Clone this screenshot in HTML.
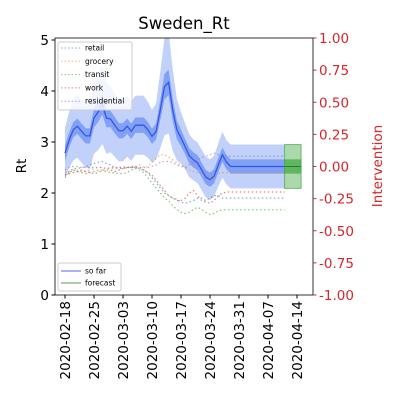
<!DOCTYPE html>
<html><head><meta charset="utf-8"><style>
body{margin:0;background:#fff;font-family:"Liberation Sans",sans-serif}
svg text{font-family:"DejaVu Sans","Liberation Sans",sans-serif}
</style></head><body>
<svg id="c" width="400" height="400" xmlns="http://www.w3.org/2000/svg"></svg>
<script>
const meanRt=[2.78,3.04,3.24,3.31,3.21,3.12,3.12,3.47,3.59,3.74,3.47,3.45,3.33,3.22,3.22,3.31,3.21,3.33,3.33,3.33,3.24,3.11,3.21,3.63,4.08,4.17,3.63,3.24,3.08,2.91,2.73,2.65,2.59,2.45,2.31,2.26,2.33,2.55,2.75,2.6,2.52,2.52,2.52,2.52,2.52,2.52,2.52,2.52,2.52,2.52,2.52,2.52,2.52,2.52];
const innerW=[0.15,0.15,0.15,0.15,0.15,0.15,0.15,0.18,0.2,0.2,0.18,0.16,0.16,0.15,0.15,0.15,0.15,0.15,0.15,0.15,0.15,0.15,0.16,0.2,0.25,0.25,0.22,0.18,0.16,0.15,0.15,0.15,0.15,0.14,0.14,0.14,0.14,0.14,0.14,0.14,0.14,0.14,0.14,0.14,0.14,0.14,0.14,0.14,0.14,0.14,0.14,0.14,0.14,0.14];
const outerW=[0.5,0.55,0.6,0.62,0.62,0.62,0.65,0.7,0.75,0.78,0.7,0.65,0.62,0.6,0.6,0.6,0.58,0.58,0.58,0.58,0.55,0.52,0.55,0.75,0.95,1.0,0.8,0.6,0.5,0.45,0.42,0.4,0.4,0.4,0.4,0.4,0.4,0.42,0.45,0.43,0.43,0.43,0.43,0.43,0.43,0.43,0.43,0.43,0.43,0.43,0.43,0.43,0.43,0.43];
const retail=[2.35,2.42,2.48,2.48,2.5,2.52,2.55,2.58,2.6,2.62,2.58,2.55,2.5,2.48,2.48,2.5,2.52,2.52,2.5,2.45,2.4,2.3,2.2,2.1,2.0,1.95,1.9,1.88,1.82,1.8,1.82,1.85,1.9,1.9,1.85,1.9,1.95,1.95,1.9,1.9,1.9,1.9,1.9,1.9,1.9,1.9,1.9,1.9,1.9,1.9,1.9,1.9,1.9,1.9];
const grocery=[2.4,2.42,2.45,2.45,2.42,2.42,2.45,2.48,2.5,2.5,2.48,2.48,2.48,2.5,2.52,2.5,2.5,2.52,2.55,2.5,2.52,2.6,2.68,2.75,2.75,2.7,2.65,2.6,2.55,2.5,2.45,2.42,2.4,2.38,2.35,2.3,2.35,2.38,2.4,2.4,2.4,2.4,2.4,2.4,2.4,2.4,2.4,2.4,2.4,2.4,2.4,2.4,2.4,2.4];
const transit=[2.3,2.4,2.45,2.42,2.4,2.38,2.4,2.42,2.45,2.45,2.42,2.4,2.4,2.38,2.38,2.4,2.45,2.48,2.45,2.4,2.3,2.2,2.1,2.0,1.9,1.85,1.75,1.68,1.62,1.6,1.62,1.68,1.72,1.68,1.62,1.58,1.6,1.65,1.67,1.67,1.67,1.67,1.67,1.67,1.67,1.67,1.67,1.67,1.67,1.67,1.67,1.67,1.67,1.67];
const work=[2.35,2.38,2.4,2.42,2.45,2.42,2.4,2.38,2.4,2.45,2.45,2.45,2.42,2.45,2.48,2.5,2.5,2.5,2.48,2.45,2.4,2.35,2.25,2.15,2.05,1.95,1.9,1.85,1.85,1.9,2.0,2.05,1.95,1.85,1.82,1.8,1.85,1.95,2.0,2.02,2.02,2.02,2.02,2.02,2.02,2.02,2.02,2.02,2.02,2.02,2.02,2.02,2.02,2.02];
const residential=[2.45,2.5,2.52,2.52,2.5,2.5,2.5,2.5,2.5,2.5,2.48,2.5,2.5,2.5,2.5,2.5,2.5,2.5,2.5,2.5,2.5,2.52,2.55,2.6,2.62,2.62,2.6,2.55,2.52,2.5,2.55,2.6,2.65,2.7,2.72,2.75,2.78,2.75,2.72,2.72,2.72,2.72,2.72,2.72,2.72,2.72,2.72,2.72,2.72,2.72,2.72,2.72,2.72,2.72];
const forecastMean=[2.52], forecastInner=[0.14], forecastOuter=[0.43];
const xTickLabels=["2020-02-18","2020-02-25","2020-03-03","2020-03-10","2020-03-17","2020-03-24","2020-03-31","2020-04-07","2020-04-14"];
const yTicks=[0,1,2,3,4,5];
const rTicks=[1,0.75,0.5,0.25,0,-0.25,-0.5,-0.75,-1];

const S=document.getElementById('c'),NS='http://www.w3.org/2000/svg';
const L=55,R=313,T=38,B=295;
const x=d=>65+d*232/56, y=v=>295-v*51, yr=v=>166.5-v*128.5;
function mk(tag,a,p){const e=document.createElementNS(NS,tag);for(const k in a)e.setAttribute(k,a[k]);(p||S).appendChild(e);return e;}
function line(arr,col,dash,name,w){const e=mk('polyline',{points:arr.map((v,i)=>x(i)+','+y(v)).join(' '),fill:'none',stroke:col,'stroke-width':w||1,'stroke-dasharray':dash||'','stroke-opacity':dash?0.6:1});
 }
const cp=mk('clipPath',{id:'cp'});mk('rect',{x:L,y:T,width:R-L,height:B-T},cp);
const g=mk('g',{'clip-path':'url(#cp)'});
function bandG(m,w,fill,op,name){let up=m.map((v,i)=>[x(i),y(v+w[i])]),dn=m.map((v,i)=>[x(i),y(v-w[i])]).reverse();
 const e=mk('polygon',{points:up.concat(dn).map(p=>p.join(',')).join(' '),fill:fill,'fill-opacity':op},g);
 }
bandG(meanRt,outerW,'#3366ee',0.3,'outer-band');
bandG(meanRt,innerW,'#3366ee',0.45,'inner-band');
const mob=[[retail,'#1f77b4','retail'],[grocery,'#ff7f0e','grocery'],[transit,'#2ca02c','transit'],[work,'#d62728','work'],[residential,'#9467bd','residential']];
mob.forEach(m=>line(m[0],m[1],'1.5,2.5',m[2]+'-line',1.2));
line(meanRt,'#3355ee','', 'so-far-line',1.3);
const fx0=x(53),fx1=x(57);
const fo=mk('rect',{x:fx0,y:y(forecastMean[0]+forecastOuter[0]),width:fx1-fx0,height:forecastOuter[0]*2*51,fill:'#2ca02c','fill-opacity':0.4,stroke:'#2ca02c','stroke-opacity':0.6});

const fi=mk('rect',{x:fx0,y:y(forecastMean[0]+forecastInner[0]),width:fx1-fx0,height:forecastInner[0]*2*51,fill:'#2ca02c','fill-opacity':0.6});

const fl=mk('line',{x1:fx0,x2:fx1,y1:y(forecastMean[0]),y2:y(forecastMean[0]),stroke:'#2a7a2a'});

const fr=mk('rect',{x:L,y:T,width:R-L,height:B-T,fill:'none',stroke:'#000','stroke-width':0.8});

yTicks.forEach(v=>{mk('line',{x1:L-3.5,x2:L,y1:y(v),y2:y(v),stroke:'#000'});
 const t=mk('text',{x:L-6,y:y(v)+5,'text-anchor':'end','font-size':13.5});t.textContent=v;
 });
rTicks.forEach(v=>{mk('line',{x1:R,x2:R+3.5,y1:yr(v),y2:yr(v),stroke:'#d62728'});
 const t=mk('text',{x:R+6,y:yr(v)+5,'font-size':13.5,fill:'#d62728'});t.textContent=v.toFixed(2);
 });
xTickLabels.forEach((s,i)=>{const xx=x(i*7);mk('line',{x1:xx,x2:xx,y1:B,y2:B+3.5,stroke:'#000'});
 const t=mk('text',{x:0,y:0,'text-anchor':'end','font-size':13.5,transform:`translate(${xx+5},${B+6}) rotate(-90)`});t.textContent=s;
 });
let t=mk('text',{x:184,y:29,'text-anchor':'middle','font-size':16.5});t.textContent='Sweden_Rt';
t=mk('text',{x:0,y:0,'text-anchor':'middle','font-size':13.5,transform:'translate(26,166) rotate(-90)'});t.textContent='Rt';
t=mk('text',{x:0,y:0,'text-anchor':'middle','font-size':13.5,fill:'#d62728',transform:'translate(382,166) rotate(-90)'});t.textContent='Intervention';
const lg=mk('g',{});
mk('rect',{x:58,y:42,width:74,height:68,fill:'#fff','fill-opacity':0.8,stroke:'#ccc',rx:2},lg);
mob.forEach((m,i)=>{const yy=48+i*13.3;mk('line',{x1:61,x2:81,y1:yy,y2:yy,stroke:m[1],'stroke-dasharray':'1.5,2','stroke-opacity':0.6},lg);
 const e=mk('text',{x:85,y:yy+2.5,'font-size':7.5},lg);e.textContent=m[2];});
const lg2=mk('g',{});
mk('rect',{x:58,y:263,width:63,height:28,fill:'#fff','fill-opacity':0.8,stroke:'#ccc',rx:2},lg2);
[['so far','#5566ee'],['forecast','#5a9a5a']].forEach((m,i)=>{const yy=271+i*12;mk('line',{x1:61,x2:81,y1:yy,y2:yy,stroke:m[1]},lg2);
 const e=mk('text',{x:85,y:yy+2.5,'font-size':7.5},lg2);e.textContent=m[0];});
</script></body></html>
